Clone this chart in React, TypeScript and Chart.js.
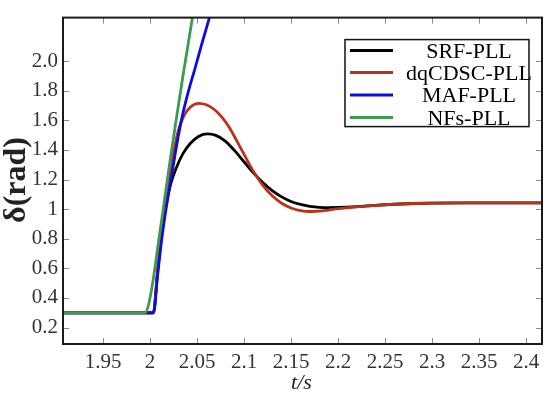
import React, { useEffect, useRef } from "react";
import { Chart, registerables } from "chart.js";

Chart.register(...registerables);

// ---- data ----
const seriesLabels = ["SRF-PLL", "dqCDSC-PLL", "MAF-PLL", "NFs-PLL"];
const seriesColors = ["#000000", "#b8321c", "#0c0ce0", "#3f9a4f"];

const srfT = [1.9074, 2.0035, 2.008, 2.0125, 2.017, 2.022, 2.028, 2.035, 2.043, 2.052, 2.061, 2.07, 2.08, 2.09, 2.1, 2.11, 2.12, 2.13, 2.14, 2.15, 2.16, 2.17, 2.18, 2.19, 2.2, 2.22, 2.24, 2.26, 2.28, 2.3, 2.34, 2.417];
const srfV = [0.3, 0.3, 0.58, 0.85, 1.03, 1.17, 1.28, 1.375, 1.445, 1.493, 1.508, 1.498, 1.46, 1.395, 1.32, 1.245, 1.18, 1.125, 1.083, 1.052, 1.032, 1.019, 1.012, 1.01, 1.011, 1.017, 1.026, 1.033, 1.038, 1.041, 1.043, 1.043];

const dqT = [1.9074, 2.0035, 2.008, 2.0125, 2.017, 2.021, 2.025, 2.03, 2.036, 2.043, 2.052, 2.06, 2.068, 2.076, 2.084, 2.092, 2.1, 2.11, 2.12, 2.13, 2.14, 2.15, 2.16, 2.17, 2.18, 2.19, 2.2, 2.22, 2.24, 2.26, 2.28, 2.3, 2.34, 2.417];
const dqV = [0.3, 0.3, 0.58, 0.86, 1.06, 1.22, 1.38, 1.53, 1.63, 1.69, 1.715, 1.705, 1.675, 1.625, 1.555, 1.465, 1.37, 1.255, 1.16, 1.09, 1.04, 1.008, 0.99, 0.984, 0.986, 0.994, 1.003, 1.016, 1.026, 1.033, 1.038, 1.041, 1.043, 1.043];

const mafT = [1.9074, 2.0037, 2.008, 2.0125, 2.017, 2.022, 2.028, 2.034, 2.041, 2.048, 2.055, 2.063, 2.072];
const mafV = [0.3, 0.3, 0.55, 0.8, 1.0, 1.19, 1.42, 1.62, 1.8, 1.955, 2.115, 2.29, 2.49];

const nfsT = [1.9074, 1.995, 1.999, 2.004, 2.009, 2.014, 2.02, 2.027, 2.035, 2.045, 2.053];
const nfsV = [0.3, 0.3, 0.37, 0.55, 0.78, 1.0, 1.27, 1.57, 1.9, 2.29, 2.58];

const xTickValues = [1.95, 2, 2.05, 2.1, 2.15, 2.2, 2.25, 2.3, 2.35, 2.4];
const xTickLabels = ["1.95", "2", "2.05", "2.1", "2.15", "2.2", "2.25", "2.3", "2.35", "2.4"];
const yTickValues = [0.2, 0.4, 0.6, 0.8, 1, 1.2, 1.4, 1.6, 1.8, 2.0];
const yTickLabels = ["0.2", "0.4", "0.6", "0.8", "1", "1.2", "1.4", "1.6", "1.8", "2.0"];

const X_MIN = 1.9074;
const X_MAX = 2.417;
const Y_MIN = 0.089;
const Y_MAX = 2.294;

const xTitle = "t/s";
const yTitle = "δ(rad)";

const SERIF = "'Liberation Serif', 'Times New Roman', serif";

function pts(t: number[], v: number[]) {
  return t.map((x, i) => ({ x, y: v[i] }));
}

const framePlugin = {
  id: "frame",
  afterDatasetsDraw(chart: any) {
    const { ctx, chartArea: ca, scales } = chart;
    const xs = scales.x;
    const ys = scales.y;
    ctx.save();
    // inward ticks
    ctx.strokeStyle = "#8a8a8a";
    ctx.lineWidth = 1;
    const tl = 6;
    ctx.beginPath();
    xTickValues.forEach((v) => {
      const px = Math.round(xs.getPixelForValue(v)) + 0.5;
      ctx.moveTo(px, ca.bottom);
      ctx.lineTo(px, ca.bottom - tl);
      ctx.moveTo(px, ca.top);
      ctx.lineTo(px, ca.top + tl);
    });
    yTickValues.forEach((v) => {
      const py = Math.round(ys.getPixelForValue(v)) + 0.5;
      ctx.moveTo(ca.left, py);
      ctx.lineTo(ca.left + tl, py);
      ctx.moveTo(ca.right, py);
      ctx.lineTo(ca.right - tl, py);
    });
    ctx.stroke();
    // frame
    ctx.strokeStyle = "#1a1a1a";
    ctx.lineWidth = 2;
    ctx.strokeRect(ca.left, ca.top, ca.right - ca.left, ca.bottom - ca.top);

    // legend
    const bw = 184, bh = 87;
    const bx = ca.right - 13 - bw;
    const by = ca.top + 22;
    ctx.fillStyle = "#ffffff";
    ctx.fillRect(bx, by, bw, bh);
    ctx.strokeStyle = "#111";
    ctx.lineWidth = 1.5;
    ctx.strokeRect(bx, by, bw, bh);
    const rows = [11, 33, 55.5, 78];
    ctx.font = `22px ${SERIF}`;
    ctx.textAlign = "center";
    ctx.textBaseline = "alphabetic";
    seriesLabels.forEach((lab, i) => {
      const ly = by + rows[i];
      ctx.strokeStyle = seriesColors[i];
      ctx.lineWidth = 3;
      ctx.beginPath();
      ctx.moveTo(bx + 5, ly);
      ctx.lineTo(bx + 48, ly);
      ctx.stroke();
      ctx.fillStyle = "#000";
      ctx.fillText(lab, bx + 124, ly + 7);
    });

    // axis titles
    ctx.fillStyle = "#222";
    ctx.font = `italic 22px ${SERIF}`;
    ctx.textAlign = "center";
    ctx.textBaseline = "middle";
    ctx.fillText(xTitle, (ca.left + ca.right) / 2 - 1, 383);
    ctx.save();
    ctx.translate(17, 180);
    ctx.rotate(-Math.PI / 2);
    ctx.font = `bold 32px ${SERIF}`;
    ctx.fillText(yTitle, 0, 0);
    ctx.restore();
    ctx.restore();
  },
};

export default function App() {
  const ref = useRef<HTMLCanvasElement | null>(null);
  useEffect(() => {
    if (!ref.current) return;
    const data = [pts(srfT, srfV), pts(dqT, dqV), pts(mafT, mafV), pts(nfsT, nfsV)];
    const order = [3, 2, 1, 0];
    const chart = new Chart(ref.current, {
      type: "line",
      data: {
        datasets: order.map((i) => ({
          label: seriesLabels[i],
          data: data[i],
          borderColor: seriesColors[i],
          backgroundColor: seriesColors[i],
          borderWidth: 2.8,
          pointRadius: 0,
          cubicInterpolationMode: "monotone" as const,
          fill: false,
        })),
      },
      options: {
        animation: false,
        responsive: false,
        devicePixelRatio: 1,
        layout: { padding: { left: 0, right: 8, top: 7, bottom: 0 } },
        plugins: { legend: { display: false }, tooltip: { enabled: false } },
        scales: {
          x: {
            type: "linear",
            min: X_MIN,
            max: X_MAX,
            afterBuildTicks: (s: any) => {
              s.ticks = xTickValues.map((v) => ({ value: v }));
            },
            afterFit: (s: any) => {
              s.height = 53;
            },
            grid: { display: false, drawTicks: false },
            border: { display: false },
            ticks: {
              autoSkip: false,
              maxRotation: 0,
              padding: 6,
              color: "#333",
              font: { family: SERIF, size: 21 },
              callback: (v: any) => {
                const i = xTickValues.findIndex((t) => Math.abs(t - v) < 1e-9);
                return i >= 0 ? xTickLabels[i] : "";
              },
            },
          },
          y: {
            type: "linear",
            min: Y_MIN,
            max: Y_MAX,
            afterBuildTicks: (s: any) => {
              s.ticks = yTickValues.map((v) => ({ value: v }));
            },
            afterFit: (s: any) => {
              s.width = 63;
            },
            grid: { display: false, drawTicks: false },
            border: { display: false },
            ticks: {
              autoSkip: false,
              padding: 5,
              color: "#333",
              font: { family: SERIF, size: 21 },
              callback: (v: any) => {
                const i = yTickValues.findIndex((t) => Math.abs(t - v) < 1e-9);
                return i >= 0 ? yTickLabels[i] : "";
              },
            },
          },
        },
      },
      plugins: [framePlugin],
    });
    return () => chart.destroy();
  }, []);
  return (
    <div style={{ position: "fixed", left: 0, top: 0, width: 550, height: 397, background: "#fff" }}>
      <canvas ref={ref} width={550} height={397} style={{ width: 550, height: 397 }} />
    </div>
  );
}
